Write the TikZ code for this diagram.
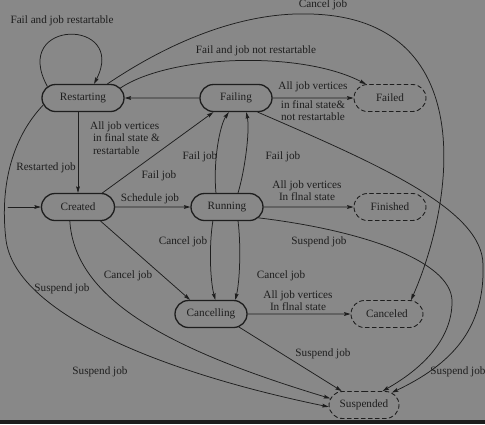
\documentclass[tikz,border=0pt]{standalone}
\usepackage{fontspec}
\setmainfont{Liberation Serif}
\usetikzlibrary{shapes.misc}
\usetikzlibrary{arrows.meta}
\definecolor{bggray}{RGB}{136,136,136}
\definecolor{ink}{RGB}{30,30,30}
\definecolor{strip}{RGB}{28,28,28}

\begin{document}
\begin{tikzpicture}
     [x=1pt,y=-1pt,line cap=round,color=ink,
      font=\fontsize{11.2}{12.2}\selectfont,
      % Styles
        jobstate/.style={rounded rectangle,draw,line width=1.3pt,
          minimum height=27pt,minimum width=76pt,inner sep=2pt},
        finalstate/.style={jobstate,line width=0.9pt,dash pattern=on 4pt off 3pt},
        trans/.style={line width=0.75pt,-{Stealth[length=6.5pt,width=3.8pt,inset=1pt]}},
        info/.style={inner sep=0pt}]
    \useasboundingbox (0,0) rectangle (485,424);
    \fill[bggray] (0,0) rectangle (485,424);
    \fill[strip] (0,420) rectangle (485,424);

    % states
    \node[jobstate,minimum width=86pt] (restarting) at (83,98) {Restarting};
    \node[jobstate] (failing) at (236,98) {Failing};
    \node[finalstate] (failed) at (390,98) {Failed};
    \node[jobstate,minimum width=77pt] (created) at (78,207) {Created};
    \node[jobstate] (running) at (227,207) {Running};
    \node[finalstate] (finished) at (390,207) {Finished};
    \node[jobstate] (cancelling) at (211,314) {Cancelling};
    \node[finalstate] (canceled) at (387,314) {Canceled};
    \node[finalstate,minimum width=74pt] (suspended) at (364,405) {Suspended};
    \coordinate (init) at (8,207);

    % straight transitions
    \draw[trans] (init) -- (created);
    \draw[trans] (restarting.south -| created.north) -- (created.north);
    \draw[trans] (failing) -- (restarting);
    \draw[trans] (failing) -- (failed);
    \draw[trans] (created) -- (running);
    \draw[trans] (running) -- (finished);
    \draw[trans] (cancelling) -- (canceled);
    \draw[trans] (created.30) -- (failing.212);
    \draw[trans] (created.-32) -- (cancelling.146);
    \draw[trans] (cancelling.-25) -- (suspended.148);

    % curved transitions
    \draw[trans] (restarting.162) .. controls (10,18) and (128,18) .. (restarting.52);
    \draw[trans] (restarting.15) .. controls (170,55) and (300,50) .. (failed.150);
    \draw[trans] (restarting.30) .. controls (180,35) and (250,12) .. (310,14)
                 .. controls (480,18) and (455,200) .. (canceled.30);
    \draw[trans] (running.128) .. controls (213,160) and (220,125) .. (failing.243);
    \draw[trans] (running.52) .. controls (245,170) and (250,130) .. (failing.306);
    \draw[trans] (running.225) .. controls (209,245) and (210,280) .. (cancelling.73);
    \draw[trans] (running.-52) .. controls (241,245) and (240,280) .. (cancelling.30);
    \draw[trans] (running.-19) .. controls (360,230) and (450,260) .. (452,300)
                 .. controls (453,340) and (420,370) .. (suspended.37);
    \draw[trans] (failing.-33) .. controls (380,165) and (483,210) .. (483,265)
                 .. controls (485,330) and (450,365) .. (suspended.24);
    \draw[trans] (created.240) .. controls (75,300) and (170,350) .. (suspended.169);
    \draw[trans] (restarting.190) .. controls (10,140) and (0,190) .. (6,240)
                 .. controls (15,310) and (150,370) .. (suspended.183);

    % labels
    \node[info] (lLoop) at (62,21) {Fail and job restartable};
    \node[info] (lCancelTop) at (323,5) {Cancel job};
    \node[info] (lNotRestart) at (256,51) {Fail and job not restartable};
    \node[info] (lFailedUp) at (313,87) {All job vertices};
    \node[info,align=center] (lFailedDown) at (313,111) {in final state\&\\not restartable};
    \node[info,align=left,anchor=west] (lRestartable) at (90,138)
          {All job vertices\\\ in final state \&\\\ restartable};
    \node[info] (lRestarted) at (46,168) {Restarted job};
    \node[info] (lFailCreated) at (159,176) {Fail job};
    \node[info] (lSchedule) at (150,199) {Schedule job};
    \node[info] (lFailLeft) at (200,157) {Fail job};
    \node[info] (lFailRight) at (283,157) {Fail job};
    \node[info,align=center] (lFinished) at (307,191) {All job vertices\\In flnal state};
    \node[info] (lCancelRun) at (183,242) {Cancel job};
    \node[info] (lSuspendRun) at (319,242) {Suspend job};
    \node[info] (lCancelCreated) at (128,276) {Cancel job};
    \node[info] (lCancelRight) at (281,276) {Cancel job};
    \node[info] (lSuspendCreated) at (62,289) {Suspend job};
    \node[info,align=center] (lCanceled) at (298,301) {All job vertices\\In flnal state};
    \node[info] (lSuspendCancel) at (323,354) {Suspend job};
    \node[info] (lSuspendRestart) at (100,372) {Suspend job};
    \node[info] (lSuspendFail) at (458,372) {Suspend job};
\end{tikzpicture}
\end{document}
